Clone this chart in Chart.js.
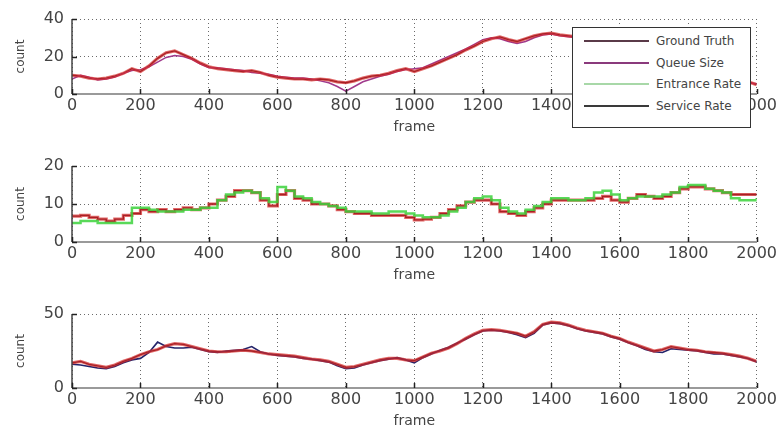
<!DOCTYPE html>
<html>
<head>
<meta charset="utf-8">
<script src="https://cdn.jsdelivr.net/npm/chart.js@4.4.1/dist/chart.umd.min.js"></script>
<style>
  body { margin: 0; background: #fff; }
  #wrap { position: relative; width: 779px; height: 429px; overflow: hidden; }
  .panel { position: absolute; left: 0; }
  #legend {
    position: absolute; left: 572px; top: 27px; width: 177px; height: 99px;
    border: 1px solid #333; background: #fff;
    font-family: "DejaVu Sans", sans-serif; font-size: 12px; color: #444;
  }
  .row { position: absolute; left: 0; height: 16px; line-height: 16px; }
  .row span.ln { position: absolute; left: 11px; top: 7px; width: 65px; height: 2px; }
  .row span.tx { position: absolute; left: 83px; top: 0; white-space: nowrap; }
</style>
</head>
<body>
<div id="wrap">
  <canvas id="c1" class="panel" style="top:0px" width="779" height="136"></canvas>
  <canvas id="c2" class="panel" style="top:140px" width="779" height="144"></canvas>
  <canvas id="c3" class="panel" style="top:286px" width="779" height="144"></canvas>
  <div id="legend"></div>
</div>
<script>
// Frame numbers (x values shared by all panels)
const frames = [0, 25, 50, 75, 100, 125, 150, 175, 200, 225, 250, 275, 300, 325, 350, 375,
    400, 425, 450, 475, 500, 525, 550, 575, 600, 625, 650, 675, 700, 725, 750, 775,
    800, 825, 850, 875, 900, 925, 950, 975, 1000, 1025, 1050, 1075, 1100, 1125, 1150, 1175,
    1200, 1225, 1250, 1275, 1300, 1325, 1350, 1375, 1400, 1425, 1450, 1475, 1500, 1525, 1550, 1575,
    1600, 1625, 1650, 1675, 1700, 1725, 1750, 1775, 1800, 1825, 1850, 1875, 1900, 1925, 1950, 1975, 2000];

// Panel 1: queue size
const queueTruth = [10, 9.5, 8.5, 8, 8.5, 9.5, 11, 13.5, 12, 15, 19, 22, 23, 21, 19, 16.5,
    14.5, 13.5, 13, 12.5, 12, 12.5, 11.5, 10, 9, 8.5, 8, 8, 7.5, 8, 7.5, 6.5,
    6, 7, 8.5, 9.5, 10, 11, 12.5, 13.5, 12, 13.5, 15, 17, 19, 21, 23.5, 25.5,
    28, 29.5, 30.5, 29, 28, 29.5, 31, 32, 32.5, 31.5, 31, 30.5, 30, 29, 28, 27,
    26, 25, 23.5, 22, 20, 18.5, 17, 15.5, 14, 13, 11.5, 10.5, 9, 8, 7, 6.5, 5];
const queueSize = [8, 10, 9, 7.5, 8, 9, 11, 12.5, 13, 14.5, 17, 19.5, 20.5, 20, 18.5, 16,
    14, 14, 13.5, 13, 12.5, 11.5, 11, 10.5, 9.5, 9, 8.5, 8.5, 8, 7, 6, 4,
    1.5, 4, 6.5, 8, 9.5, 10.5, 12, 13, 13.5, 14, 16, 18, 20, 22, 24, 26.5,
    29, 30, 29.5, 28, 27, 28, 30, 31.5, 32, 31, 30.5, 30, 29.5, 28.5, 27.5, 26.5,
    25.5, 24, 23, 21.5, 19.5, 18, 16.5, 15, 13.5, 12.5, 11, 10, 8.5, 7.5, 6.5, 6, 5.5];

// Panel 2: entrance rate
const entranceTruth = [6.8, 7, 6.5, 6, 5.5, 6, 7, 7.5, 8.5, 8, 8.5, 8, 8.5, 9, 8.5, 9,
    10, 11, 12, 13.5, 13.5, 13, 11, 9.5, 12.5, 13.5, 11.5, 11, 10, 10, 9.5, 8.5,
    8, 7.5, 7.5, 7, 7, 7, 7, 6.5, 5.8, 6, 6.5, 7.5, 8.5, 9.5, 10.5, 11,
    11, 10, 8, 7.5, 7, 8, 9, 10, 11, 11, 11, 11, 11, 11.5, 12, 11,
    10.5, 11.5, 12.5, 12, 11.5, 12, 13, 14, 14.5, 14.5, 14, 13.5, 13, 12.5, 12.5, 12.5, 12.5];
const entranceRate = [5, 5.5, 5.5, 5, 5, 5, 5, 9, 9, 8.5, 8, 8, 8, 8.5, 8.5, 9,
    9, 11, 12.5, 13, 13.5, 13, 11.5, 10.5, 14.5, 13.5, 12, 11.5, 10.5, 10, 9.5, 9,
    8, 8, 8, 7.5, 7.5, 8, 8, 7.5, 7, 6.5, 6.5, 7, 8, 9, 10.5, 11.5,
    12, 11, 9, 8, 7.5, 8.5, 9.5, 10.5, 11.5, 11.5, 11, 11, 11.5, 13, 13.5, 12.5,
    11, 11.5, 12, 12, 12, 12.5, 13, 14.5, 15, 15, 14, 13.5, 13, 11.5, 11, 11, 11.5];

// Panel 3: service rate
const serviceTruth = [17, 18, 16, 15, 14, 15.5, 18, 20, 22.5, 24.5, 26, 28.5, 30, 29.5, 28, 26.5,
    25, 24.5, 24.5, 25, 25.5, 25, 24, 23, 22.5, 22, 21.5, 20.5, 19.5, 19, 18, 16,
    14, 14.5, 16, 17.5, 19, 20, 20, 19, 18.5, 21, 23.5, 25, 27, 30, 33.5, 36.5,
    39, 39.5, 39, 38, 37, 35, 38, 43, 44.5, 44, 42.5, 40.5, 39, 38, 37, 35,
    33.5, 31, 29, 27, 25, 26, 28, 27, 26, 25.5, 24.5, 24, 23.5, 22.5, 21.5, 20, 18];
const serviceRate = [16, 15.5, 14.5, 13.5, 13, 14.5, 17, 19, 20, 24, 31, 28, 27, 27, 27.5, 26,
    24.5, 24, 25, 25.5, 26, 28, 24.5, 23, 22, 21.5, 21, 20, 19.5, 18.5, 17.5, 15,
    13, 13.5, 15.5, 17, 18.5, 19.5, 20.5, 19, 17, 20.5, 23, 25.5, 27.5, 30.5, 33, 36,
    38.5, 39, 38.5, 37.5, 36, 34, 37, 42.5, 44, 43.5, 42, 40, 38.5, 37.5, 36.5, 34.5,
    33, 30.5, 28.5, 26, 24.5, 24, 26.5, 26, 25.5, 25, 24, 23, 23, 22, 21, 20, 17.5];

// Legend entries
const legendLabels = ['Ground Truth', 'Queue Size', 'Entrance Rate', 'Service Rate'];
const legendColors = ['#5a3a48', '#8a3a7c', '#a8d8a8', '#3a3a3a'];

function points(values) {
    return frames.map((f, i) => ({ x: f, y: values[i] }));
}

// Solid axis lines and small inward tick marks, MATLAB style
const axesBox = {
    id: 'axesBox',
    afterDraw(chart) {
        const ctx = chart.ctx;
        const xs = chart.scales.x, ys = chart.scales.y;
        const a = chart.chartArea;
        ctx.save();
        ctx.strokeStyle = '#9a9a9a';
        ctx.lineWidth = 2;
        ctx.beginPath();
        ctx.moveTo(a.left, a.bottom);
        ctx.lineTo(a.right, a.bottom);
        ctx.stroke();
        ctx.strokeStyle = '#444';
        ctx.lineWidth = 1.5;
        ctx.beginPath();
        ctx.moveTo(a.left, a.top);
        ctx.lineTo(a.left, a.bottom);
        ctx.stroke();
        ctx.strokeStyle = '#222';
        xs.ticks.forEach(t => {
            const px = Math.round(xs.getPixelForValue(t.value)) + 0.5;
            ctx.beginPath();
            ctx.moveTo(px, a.bottom);
            ctx.lineTo(px, a.bottom - 5);
            ctx.stroke();
        });
        ys.ticks.forEach(t => {
            const py = Math.round(ys.getPixelForValue(t.value)) + 0.5;
            ctx.beginPath();
            ctx.moveTo(a.left, py);
            ctx.lineTo(a.left + 5, py);
            ctx.stroke();
        });
        ctx.restore();
    }
};

function makePanel(id, padTop, yMax, yStep, datasets) {
    const ctx = document.getElementById(id).getContext('2d');
    return new Chart(ctx, {
        type: 'line',
        data: { datasets: datasets },
        options: {
            responsive: false,
            animation: false,
            layout: { padding: { top: padTop, right: 19, left: 0, bottom: 0 } },
            plugins: { legend: { display: false }, tooltip: { enabled: false } },
            elements: { point: { radius: 0 }, line: { tension: 0 } },
            scales: {
                x: {
                    type: 'linear',
                    min: 0,
                    max: 2000,
                    afterFit: s => { s.height = 42; },
                    ticks: {
                        stepSize: 200,
                        padding: 2,
                        maxRotation: 0,
                        color: '#444',
                        font: { family: 'DejaVu Sans', size: 16 },
                        callback: v => String(v)
                    },
                    grid: { color: '#6a6a6a', lineWidth: 1, drawTicks: false },
                    border: { display: false, dash: [1, 3] },
                    title: {
                        display: true,
                        text: 'frame',
                        color: '#444',
                        padding: { top: 0, bottom: 0 },
                        font: { family: 'DejaVu Sans', size: 14 }
                    }
                },
                y: {
                    min: 0,
                    max: yMax,
                    afterFit: s => { s.width = 72; },
                    ticks: {
                        stepSize: yStep,
                        padding: 8,
                        color: '#444',
                        font: { family: 'DejaVu Sans', size: 16 },
                        callback: v => String(v)
                    },
                    grid: { color: '#6a6a6a', lineWidth: 1, drawTicks: false },
                    border: { display: false, dash: [1, 3] },
                    title: {
                        display: true,
                        text: 'count',
                        color: '#444',
                        padding: { top: 14, bottom: 14 },
                        font: { family: 'DejaVu Sans', size: 12 }
                    }
                }
            }
        },
        plugins: [axesBox]
    });
}

function truthHalo(values, stepped) {
    return { label: 'Ground Truth', data: points(values), borderColor: 'rgba(214, 40, 40, 0.7)',
             borderWidth: 3.2, stepped: stepped };
}
function truthCore(values, stepped) {
    return { label: 'Ground Truth', data: points(values), borderColor: '#3e1020',
             borderWidth: 1.3, stepped: stepped };
}

makePanel('c1', 19, 40, 20, [
    truthHalo(queueTruth, false),
    { label: 'Queue Size', data: points(queueSize), borderColor: '#a03a8c', borderWidth: 1.5 },
    truthCore(queueTruth, false)
]);

makePanel('c2', 26, 20, 10, [
    { label: 'Entrance Rate', data: points(entranceRate), borderColor: 'rgba(60, 210, 60, 0.85)',
      borderWidth: 2.5, stepped: true },
    truthHalo(entranceTruth, true),
    truthCore(entranceTruth, true)
]);

makePanel('c3', 28, 50, 50, [
    truthHalo(serviceTruth, false),
    { label: 'Service Rate', data: points(serviceRate), borderColor: '#24246a', borderWidth: 1.6 },
    truthCore(serviceTruth, false)
]);

// Legend box over the top panel
const legend = document.getElementById('legend');
legendLabels.forEach((name, i) => {
    const row = document.createElement('div');
    row.className = 'row';
    row.style.top = (5 + i * 21.7) + 'px';
    row.style.width = '100%';
    row.innerHTML = '<span class="ln" style="background:' + legendColors[i] + '"></span>' +
        '<span class="tx">' + name + '</span>';
    legend.appendChild(row);
});
</script>
</body>
</html>
